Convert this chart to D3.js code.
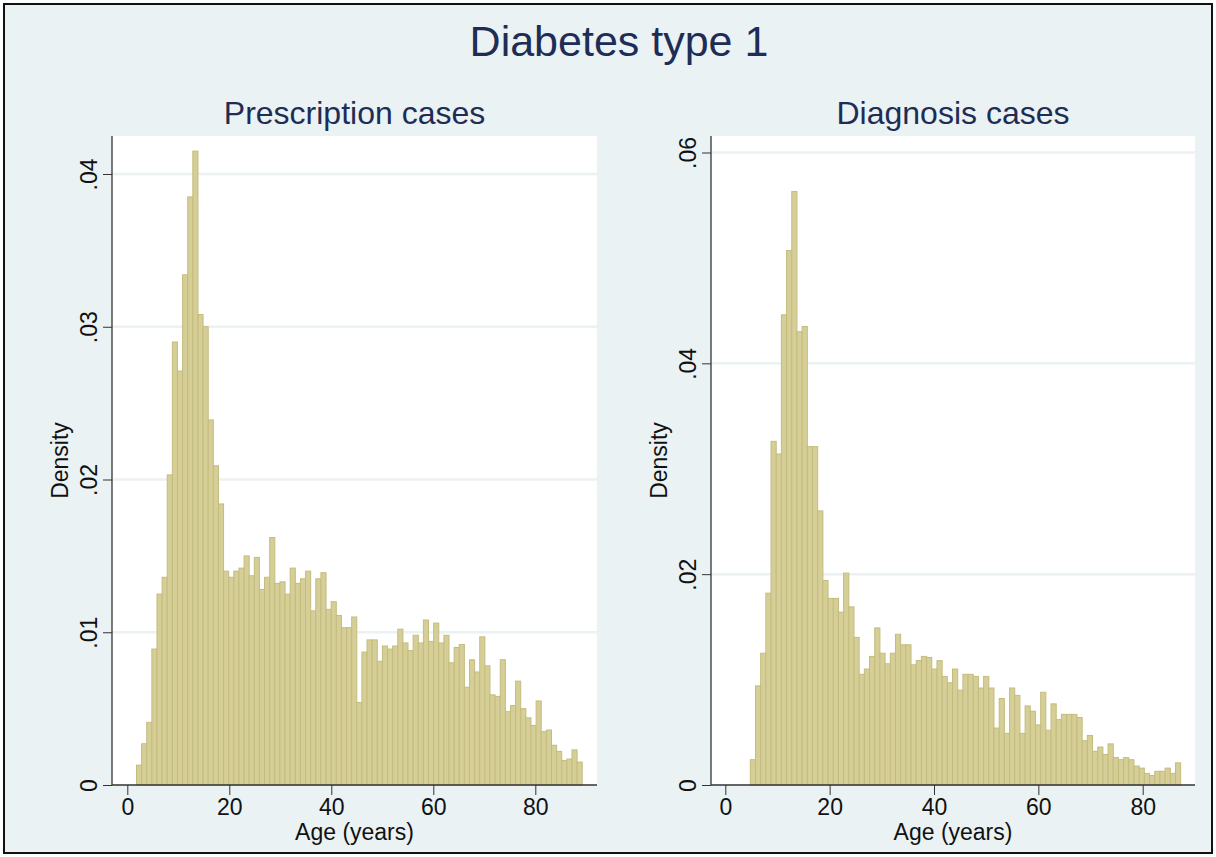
<!DOCTYPE html>
<html><head><meta charset="utf-8">
<script src="https://cdn.jsdelivr.net/npm/d3@7/dist/d3.min.js"></script>
<style>
body{margin:0;background:#fff}
svg{display:block}
text{font-family:"Liberation Sans",Arial,Helvetica,sans-serif}
</style>
</head><body>
<svg id="chart" width="1216" height="857"></svg>
<script>
// ---------------- data ----------------
const chartTitle = "Diabetes type 1";
const panelTitles = ["Prescription cases", "Diagnosis cases"];
const xAxisLabel = "Age (years)";
const yAxisLabel = "Density";
const xTickValues = [0, 20, 40, 60, 80];
const prescriptionYTicks = [0, 0.01, 0.02, 0.03, 0.04];
const diagnosisYTicks = [0, 0.02, 0.04, 0.06];

// histogram bins (age in years): first bin start and bin width
const prescriptionBinStart = 1.8;
const prescriptionBinWidth = 1.0046;
const prescriptionDensity = [
  0.0013, 0.0027, 0.0041, 0.0089, 0.0125, 0.0136, 0.0203, 0.0290, 0.0271, 0.0334,
  0.0385, 0.0415, 0.0308, 0.0300, 0.0239, 0.0209, 0.0184, 0.0140, 0.0136, 0.0140,
  0.0142, 0.0150, 0.0137, 0.0149, 0.0128, 0.0136, 0.0162, 0.0132, 0.0133, 0.0125,
  0.0142, 0.0132, 0.0135, 0.0140, 0.0114, 0.0135, 0.0139, 0.0115, 0.0120, 0.0111,
  0.0103, 0.0103, 0.0110, 0.0054, 0.0087, 0.0095, 0.0095, 0.0081, 0.0091, 0.0089,
  0.0091, 0.0102, 0.0093, 0.0088, 0.0098, 0.0093, 0.0108, 0.0094, 0.0106, 0.0093,
  0.0098, 0.0080, 0.0090, 0.0092, 0.0064, 0.0082, 0.0074, 0.0097, 0.0078, 0.0059,
  0.0058, 0.0082, 0.0048, 0.0052, 0.0068, 0.0050, 0.0044, 0.0039, 0.0055, 0.0035,
  0.0036, 0.0026, 0.0022, 0.0016, 0.0017, 0.0023, 0.0015
];

const diagnosisBinStart = 4.79;
const diagnosisBinWidth = 0.9938;
const diagnosisDensity = [
  0.0024, 0.0094, 0.0125, 0.0182, 0.0326, 0.0314, 0.0446, 0.0507, 0.0563, 0.0430,
  0.0435, 0.0321, 0.0321, 0.0260, 0.0194, 0.0177, 0.0177, 0.0164, 0.0201, 0.0169,
  0.0140, 0.0105, 0.0110, 0.0122, 0.0149, 0.0125, 0.0115, 0.0125, 0.0143, 0.0133,
  0.0133, 0.0114, 0.0118, 0.0122, 0.0121, 0.0110, 0.0118, 0.0103, 0.0097, 0.0110,
  0.0090, 0.0105, 0.0105, 0.0103, 0.0092, 0.0103, 0.0092, 0.0054, 0.0082, 0.0049,
  0.0092, 0.0085, 0.0049, 0.0075, 0.0070, 0.0057, 0.0088, 0.0052, 0.0077, 0.0062,
  0.0067, 0.0067, 0.0067, 0.0064, 0.0042, 0.0047, 0.0032, 0.0036, 0.0029, 0.0039,
  0.0026, 0.0024, 0.0026, 0.0024, 0.0018, 0.0016, 0.0011, 0.0009, 0.0013, 0.0013,
  0.0016, 0.0011, 0.0021
];

// ---------------- layout / style ----------------
const W = 1216, H = 857;
const bgColor = "#eaf2f3";
const gridColor = "#eaf2f3";
const barFill = "#d6ce97";
const barStroke = "#c4bc7d";
const axisColor = "#333333";
const titleColor = "#1e2d55";
const labelColor = "#111111";
const plotTop = 136;

const svg = d3.select("#chart");

svg.append("rect").attr("x", 4).attr("y", 4).attr("width", W - 8).attr("height", H - 8)
  .attr("fill", bgColor).attr("stroke", "#111").attr("stroke-width", 2);

svg.append("text").attr("x", 619).attr("y", 56).attr("text-anchor", "middle")
  .attr("font-size", 43).attr("fill", titleColor).text(chartTitle);

const fmt = d => d === 0 ? "0" : d3.format(".2f")(d).replace(/^0/, "");

const panels = [
  { title: panelTitles[0], left: 112, right: 597, xRange: [127.3, 535.3],
    yMax: 0.04, yRange: [785, 174], yTicks: prescriptionYTicks,
    start: prescriptionBinStart, width: prescriptionBinWidth, data: prescriptionDensity },
  { title: panelTitles[1], left: 711, right: 1195, xRange: [725.3, 1142.7],
    yMax: 0.06, yRange: [785, 152.5], yTicks: diagnosisYTicks,
    start: diagnosisBinStart, width: diagnosisBinWidth, data: diagnosisDensity }
];

panels.forEach(p => {
  const g = svg.append("g");
  const x = d3.scaleLinear().domain([0, 80]).range(p.xRange);
  const y = d3.scaleLinear().domain([0, p.yMax]).range(p.yRange);
  const y0 = y(0);
  const cx = (p.left + p.right) / 2;

  g.append("rect").attr("x", p.left).attr("y", plotTop)
    .attr("width", p.right - p.left).attr("height", y0 - plotTop).attr("fill", "#fff");

  g.selectAll("line.grid").data(p.yTicks.filter(d => d > 0)).join("line")
    .attr("class", "grid")
    .attr("x1", p.left).attr("x2", p.right)
    .attr("y1", d => y(d)).attr("y2", d => y(d))
    .attr("stroke", gridColor).attr("stroke-width", 2.5);

  const bins = p.data.map((v, i) => ({ x0: p.start + i * p.width, x1: p.start + (i + 1) * p.width, v }));
  g.selectAll("rect.bar").data(bins).join("rect")
    .attr("class", "bar")
    .attr("x", d => x(d.x0)).attr("width", d => x(d.x1) - x(d.x0))
    .attr("y", d => y(d.v)).attr("height", d => y0 - y(d.v))
    .attr("fill", barFill).attr("stroke", barStroke).attr("stroke-width", 1);

  // axes
  const ya = g.append("g").attr("transform", `translate(${p.left},0)`)
    .call(d3.axisLeft(y).tickValues(p.yTicks).tickSize(9).tickFormat(fmt));
  ya.select(".domain").remove();
  ya.selectAll(".tick line").attr("stroke", axisColor);
  ya.selectAll(".tick text")
    .attr("transform", "rotate(-90)").attr("x", 0).attr("y", -15).attr("dy", 0)
    .attr("text-anchor", "middle").attr("font-size", 23).attr("fill", labelColor)
    .style("font-family", '"Liberation Sans",Arial,sans-serif');

  const xa = g.append("g").attr("transform", `translate(0,${y0})`)
    .call(d3.axisBottom(x).tickValues(xTickValues).tickSize(10).tickFormat(d3.format("d")));
  xa.select(".domain").remove();
  xa.selectAll(".tick line").attr("stroke", axisColor);
  xa.selectAll(".tick text").attr("y", 14).attr("font-size", 23).attr("fill", labelColor)
    .style("font-family", '"Liberation Sans",Arial,sans-serif');

  g.append("line").attr("x1", p.left).attr("x2", p.left).attr("y1", plotTop).attr("y2", y0)
    .attr("stroke", axisColor).attr("stroke-width", 1.3);
  g.append("line").attr("x1", p.left).attr("x2", p.right).attr("y1", y0).attr("y2", y0)
    .attr("stroke", axisColor).attr("stroke-width", 1.3);

  g.append("text").attr("x", cx).attr("y", 124).attr("text-anchor", "middle")
    .attr("font-size", 32).attr("fill", titleColor).text(p.title);

  g.append("text").attr("x", cx).attr("y", 840).attr("text-anchor", "middle")
    .attr("font-size", 23).attr("fill", labelColor).text(xAxisLabel);

  g.append("text").attr("transform", `translate(${p.left - 44},${(plotTop + y0) / 2}) rotate(-90)`)
    .attr("text-anchor", "middle").attr("font-size", 23).attr("fill", labelColor).text(yAxisLabel);
});
</script>
</body></html>
